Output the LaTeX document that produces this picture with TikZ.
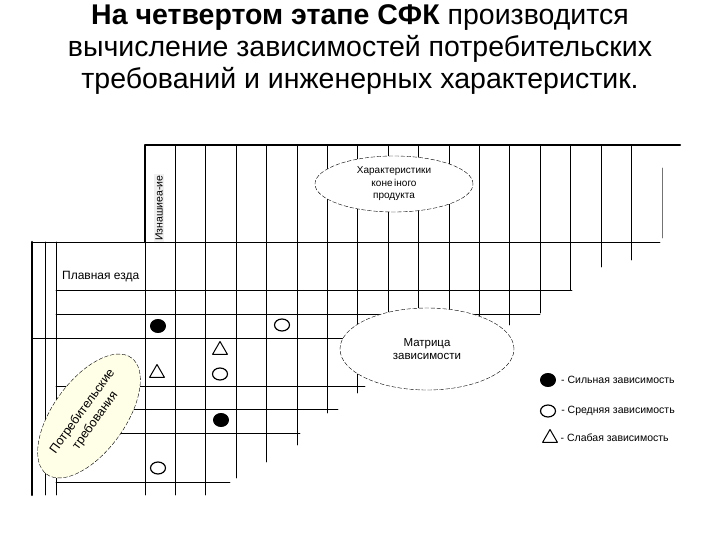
\documentclass[tikz,border=0pt]{standalone}
\usepackage{fontspec}
\setmainfont{Liberation Sans}
\usetikzlibrary{shapes.geometric,positioning}

\begin{document}
\begin{tikzpicture}[x=1pt,y=-1pt,line cap=round,line join=round,
  gridline/.style={line width=0.9pt},
  frameline/.style={line width=2.2pt},
  strongdep/.style={ellipse,draw,fill=black,line width=1pt,minimum width=15pt,minimum height=13pt,inner sep=0pt},
  meddep/.style={ellipse,draw,line width=1.2pt,minimum width=15pt,minimum height=12pt,inner sep=0pt},
  weakdep/.style={regular polygon,regular polygon sides=3,draw,line width=1pt,minimum size=17pt,inner sep=0pt},
  bubble/.style={ellipse,draw,dash pattern=on 4pt off 2pt,fill=white,inner sep=0pt,align=center,font=\fontsize{10}{12.5}\selectfont},
  smalltext/.style={font=\fontsize{10.5}{12}\selectfont,inner sep=1pt}]
  \useasboundingbox (0,0) rectangle (720,540);
  % заголовок
  \node[font=\fontsize{28.5}{32}\selectfont,align=center] (title) at (360,50)
    {\textbf{На четвертом этапе СФК} производится\\вычисление зависимостей потребительских\\требований и инженерных характеристик.};
  % крыша: столбцы характеристик
  \draw[frameline] (145,242) -- (145,145) -- (680,145);
  \draw[gridline,black!55] (662,168) -- (662,238);
  \foreach \i/\b in {1/495,2/495,3/478,4/462,5/445,6/413,7/393,8/330,9/330,10/330,11/330,12/325,13/313,14/290,15/267,16/260}
    \draw[gridline] ({145+30.4*\i},145) -- ({145+30.4*\i},\b);
  \draw[gridline] (145,242) -- (145,495);
  % строки матрицы
  \draw[frameline] (32,242) -- (32,495);
  \draw[gridline] (45,242) -- (45,495);
  \draw[gridline] (56,242) -- (56,495);
  \draw[gridline] (32,242) -- (660,242);
  \draw[gridline] (56,290) -- (572,290);
  \draw[gridline] (56,314) -- (540,314);
  \draw[gridline] (32,338) -- (345,338);
  \draw[gridline] (56,386) -- (365,386);
  \draw[gridline] (56,409) -- (338,409);
  \draw[gridline] (56,433) -- (300,433);
  \draw[gridline] (56,482) -- (230,482);
  % подписи
  \node[smalltext,rotate=90,fill=gray!12] (namecol) at (159,208) {Изнашиеа-ие};
  \node[smalltext,font=\fontsize{12}{13}\selectfont,anchor=west] (smooth) at (61,277) {Плавная езда};
  \node[bubble,minimum width=158pt,minimum height=56pt] (roofbubble) at (394,184)
    {Характеристики\\коне\,іного\\продукта};
  \node[bubble,font=\fontsize{11.5}{13}\selectfont,minimum width=174pt,minimum height=82pt] (matrixbubble) at (427,349)
    {Матрица\\зависимости};
  \node[bubble,fill=yellow!10,minimum width=144pt,minimum height=72pt,rotate=54,
    font=\fontsize{12.5}{16}\selectfont] (custbubble) at (89,416) {Потребительские\\требования};
  % зависимости в ячейках
  \node[strongdep] (s1) at (158,326) {};
  \node[strongdep] (s2) at (221,420) {};
  \node[meddep] (m1) at (282,325) {};
  \node[meddep] (m2) at (220,374) {};
  \node[meddep] (m3) at (158,468) {};
  \node[weakdep] (w1) at (220,350) {};
  \node[weakdep] (w2) at (157,373) {};
  % легенда
  \node[strongdep] (ls) at (548,380) {};
  \node[smalltext,right=4pt of ls] (lstext) {- Сильная зависимость};
  \node[meddep] (lm) at (548,411) {};
  \node[smalltext,right=4pt of lm] (lmtext) {- Средняя зависимость};
  \node[weakdep] (lw) at (550,438) {};
  \node[smalltext,right=4pt of lw] (lwtext) {- Слабая зависимость};
\end{tikzpicture}
\end{document}
